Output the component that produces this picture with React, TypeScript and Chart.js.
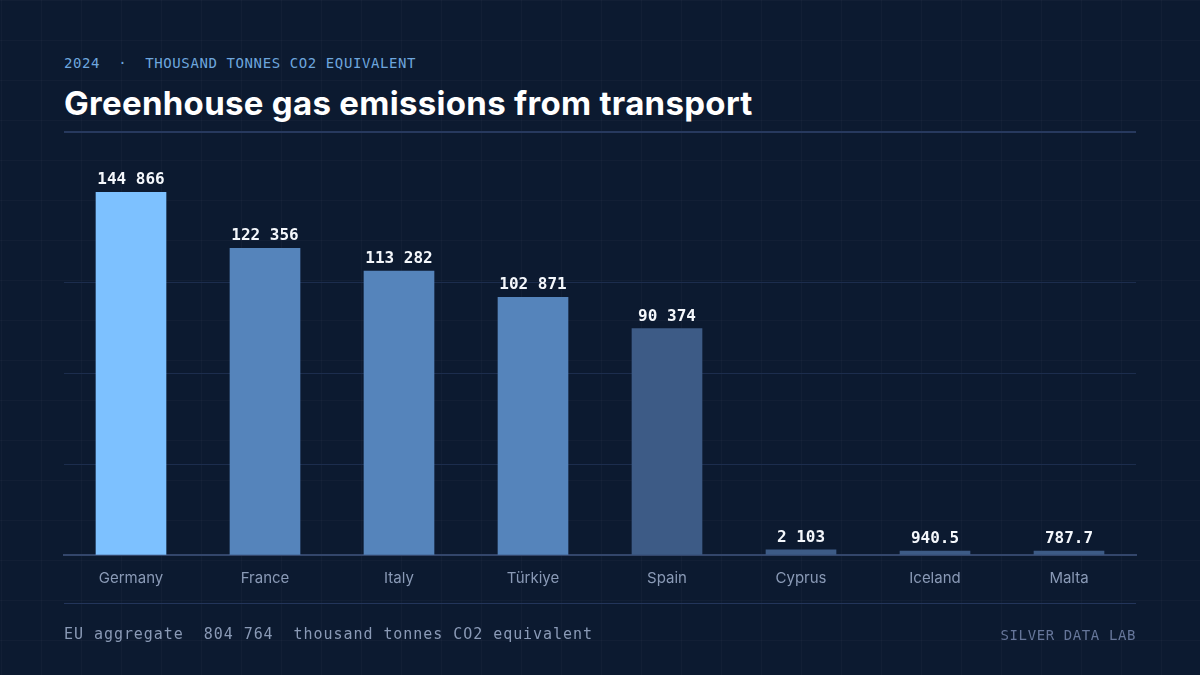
import React, { useEffect, useRef } from "react";
import { Chart, registerables } from "chart.js";

Chart.register(...registerables);

const categories = ["Germany", "France", "Italy", "Türkiye", "Spain", "Cyprus", "Iceland", "Malta"];
const values = [144866, 122356, 113282, 102871, 90374, 2103, 940.5, 787.7];
const barColors = ["#7dc1ff", "#5584bb", "#5584bb", "#5584bb", "#3d5b86", "#3d5b86", "#3d5b86", "#3d5b86"];
const subtitle = "2024  ·  THOUSAND TONNES CO2 EQUIVALENT";
const title = "Greenhouse gas emissions from transport";
const footerLeft = "EU aggregate  804 764  thousand tonnes CO2 equivalent";
const footerRight = "SILVER DATA LAB";

const yMax = Math.max(...values);

function fmt(v: number): string {
  if (v >= 1000) {
    const s = Math.round(v).toString();
    return s.replace(/\B(?=(\d{3})+(?!\d))/g, " ");
  }
  return v.toFixed(1);
}

const valueLabels = {
  id: "valueLabels",
  afterDatasetsDraw(chart: any) {
    const ctx = chart.ctx;
    const meta = chart.getDatasetMeta(0);
    ctx.save();
    ctx.font = "bold 16px 'DejaVu Sans Mono', monospace";
    ctx.fillStyle = "#f4f7fb";
    ctx.textAlign = "center";
    ctx.textBaseline = "alphabetic";
    meta.data.forEach((bar: any, i: number) => {
      ctx.fillText(fmt(values[i]), bar.x, bar.y - 8);
    });
    ctx.restore();
  },
};

export default function App() {
  const ref = useRef<HTMLCanvasElement | null>(null);

  useEffect(() => {
    if (!ref.current) return;
    const chart = new Chart(ref.current, {
      type: "bar",
      data: {
        labels: categories,
        datasets: [
          {
            data: values,
            backgroundColor: barColors,
            borderWidth: 0,
            barThickness: 70,
            minBarLength: 4,
          },
        ],
      },
      options: {
        responsive: false,
        animation: false,
        devicePixelRatio: 1,
        layout: { padding: { left: 64, right: 64, top: 192, bottom: 0 } },
        plugins: { legend: { display: false }, tooltip: { enabled: false } },
        scales: {
          x: {
            grid: { display: false, drawTicks: false },
            border: { display: true, color: "#33466b", width: 2 },
            ticks: {
              color: "#8a9ab6",
              font: { family: "Inter, 'Noto Sans', sans-serif", size: 15 },
              padding: 14,
            },
            afterFit: (s: any) => {
              s.height = 120;
            },
          },
          y: {
            min: 0,
            max: yMax,
            ticks: { display: false, stepSize: yMax / 4 },
            grid: {
              drawTicks: false,
              color: (c: any) =>
                c.tick && (c.tick.value === 0 || c.tick.value >= yMax - 1) ? "rgba(0,0,0,0)" : "#1c2d4d",
              lineWidth: 1,
            },
            border: { display: false },
            afterFit: (s: any) => {
              s.width = 0;
            },
          },
        },
      },
      plugins: [valueLabels],
    });
    return () => chart.destroy();
  }, []);

  const mono = "'DejaVu Sans Mono', 'Liberation Mono', monospace";

  return (
    <div
      style={{
        position: "fixed",
        left: 0,
        top: 0,
        width: 1200,
        height: 675,
        overflow: "hidden",
        backgroundColor: "#0c1a30",
        backgroundImage:
          "linear-gradient(rgba(255,255,255,0.025) 1px, transparent 1px), linear-gradient(90deg, rgba(255,255,255,0.025) 1px, transparent 1px)",
        backgroundSize: "40px 40px",
        backgroundPosition: "1px 0px",
      }}
    >
      <div
        style={{
          position: "absolute",
          left: 64,
          top: 54,
          fontFamily: mono,
          fontSize: 14,
          letterSpacing: "0.6px",
          color: "#6ea6de",
          whiteSpace: "pre",
          lineHeight: "18px",
        }}
      >
        {subtitle}
      </div>
      <div
        style={{
          position: "absolute",
          left: 64,
          top: 83,
          fontFamily: "Inter, 'Noto Sans', sans-serif",
          fontWeight: 700,
          fontSize: 33,
          letterSpacing: "0.3px",
          color: "#ffffff",
          whiteSpace: "pre",
          lineHeight: "40px",
        }}
      >
        {title}
      </div>
      <div style={{ position: "absolute", left: 64, top: 131, width: 1072, height: 2, background: "#27395e" }} />
      <canvas ref={ref} width={1200} height={675} style={{ position: "absolute", left: 0, top: 0, width: 1200, height: 675 }} />
      <div style={{ position: "absolute", left: 64, top: 603, width: 1072, height: 1, background: "#23355a" }} />
      <div
        style={{
          position: "absolute",
          left: 64,
          top: 624,
          fontFamily: mono,
          fontSize: 15,
          letterSpacing: "0.95px",
          color: "#8a9ab6",
          whiteSpace: "pre",
          lineHeight: "20px",
        }}
      >
        {footerLeft}
      </div>
      <div
        style={{
          position: "absolute",
          right: 64,
          top: 625,
          fontFamily: mono,
          fontSize: 14,
          letterSpacing: "0.6px",
          color: "#66769a",
          whiteSpace: "pre",
          lineHeight: "20px",
        }}
      >
        {footerRight}
      </div>
    </div>
  );
}
